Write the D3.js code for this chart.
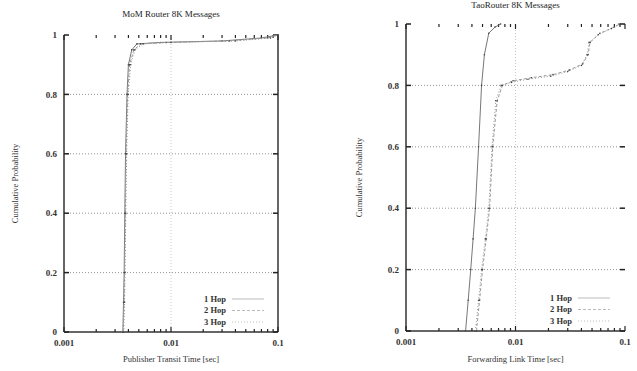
<!DOCTYPE html>
<html>
<head>
<meta charset="utf-8">
<script src="https://cdn.jsdelivr.net/npm/d3@7"></script>
<style>
  body { margin: 0; background: #fff; }
  svg { display: block; font-family: "Liberation Serif", "DejaVu Serif", serif; }
</style>
</head>
<body>
<svg id="chart" width="637" height="371"></svg>
<script>
// Shared axis settings
const xDomain = [0.001, 0.1];
const xTickLabels = ['0.001', '0.01', '0.1'];
const yTicks = [0, 0.2, 0.4, 0.6, 0.8, 1];
const seriesNames = ['1 Hop', '2 Hop', '3 Hop'];

// Left panel: [time sec, cumulative probability]
const momHop1 = [[0.00355, 0], [0.0036, 0.1], [0.00365, 0.2], [0.0037, 0.4], [0.00376, 0.6], [0.00388, 0.8], [0.0040, 0.9], [0.0043, 0.95], [0.0048, 0.97], [0.008, 0.975], [0.03, 0.98], [0.07, 0.99], [0.1, 1]];
const momHop2 = [[0.00358, 0], [0.00364, 0.1], [0.00368, 0.2], [0.00374, 0.4], [0.0038, 0.6], [0.00393, 0.8], [0.0041, 0.9], [0.0045, 0.95], [0.0052, 0.97], [0.009, 0.975], [0.035, 0.98], [0.08, 0.99], [0.1, 1]];
const momHop3 = [[0.00362, 0], [0.00368, 0.1], [0.00372, 0.2], [0.00378, 0.4], [0.00385, 0.6], [0.00398, 0.8], [0.0042, 0.9], [0.0046, 0.95], [0.0055, 0.97], [0.01, 0.975], [0.04, 0.98], [0.085, 0.99], [0.1, 1]];

// Right panel
const taoHop1 = [[0.0035, 0], [0.0037, 0.1], [0.0039, 0.2], [0.0041, 0.3], [0.0043, 0.4], [0.0046, 0.6], [0.0049, 0.8], [0.0052, 0.9], [0.0057, 0.97], [0.0065, 0.99], [0.0073, 1]];
const taoHop2 = [[0.0044, 0], [0.0047, 0.1], [0.0050, 0.2], [0.0054, 0.3], [0.0058, 0.4], [0.0062, 0.6], [0.0068, 0.75], [0.0076, 0.8], [0.0095, 0.815], [0.014, 0.825], [0.022, 0.835], [0.031, 0.85], [0.041, 0.87], [0.046, 0.9], [0.048, 0.94], [0.059, 0.97], [0.08, 0.99], [0.09, 1]];
const taoHop3 = [[0.0043, 0], [0.0046, 0.1], [0.0049, 0.2], [0.0053, 0.3], [0.0057, 0.4], [0.0061, 0.6], [0.0066, 0.75], [0.0074, 0.8], [0.0092, 0.81], [0.013, 0.82], [0.021, 0.83], [0.03, 0.845], [0.04, 0.865], [0.045, 0.9], [0.047, 0.94], [0.057, 0.965], [0.075, 0.985], [0.088, 1]];

const svg = d3.select('#chart');
const dashes = [null, '3,2', '1,2'];

function drawPanel(cfg) {
    const x = d3.scaleLog().domain(xDomain).range([cfg.left, cfg.right]);
    const y = d3.scaleLinear().domain([0, 1]).range([cfg.bottom, cfg.top]);
    const g = svg.append('g');

    // Grid (dotted)
    g.selectAll('.hgrid').data(yTicks.slice(1, -1)).enter().append('line')
        .attr('x1', cfg.left).attr('x2', cfg.right)
        .attr('y1', d => y(d)).attr('y2', d => y(d))
        .attr('stroke', '#888').attr('stroke-width', 0.9).attr('stroke-dasharray', '1,2');
    g.append('line')
        .attr('x1', x(0.01)).attr('x2', x(0.01))
        .attr('y1', cfg.top).attr('y2', cfg.bottom)
        .attr('stroke', '#bbb').attr('stroke-width', 0.8).attr('stroke-dasharray', '1,2');

    // Borders
    g.append('line').attr('x1', cfg.left).attr('x2', cfg.left).attr('y1', cfg.top).attr('y2', cfg.bottom)
        .attr('stroke', '#333').attr('stroke-width', 1.5);
    g.append('line').attr('x1', cfg.left).attr('x2', cfg.right).attr('y1', cfg.bottom).attr('y2', cfg.bottom)
        .attr('stroke', '#333').attr('stroke-width', 1.5);
    if (cfg.rightBorder) {
        g.append('line').attr('x1', cfg.right).attr('x2', cfg.right).attr('y1', cfg.top).attr('y2', cfg.bottom)
            .attr('stroke', '#333').attr('stroke-width', 1.5);
    }

    // Log ticks on bottom and top (mirror)
    const xt = x.ticks();
    [cfg.bottom, cfg.top].forEach((yy, i) => {
        g.selectAll(null).data(xt).enter().append('line')
            .attr('x1', d => x(d)).attr('x2', d => x(d))
            .attr('y1', yy).attr('y2', d => {
                const major = Math.abs(Math.log10(d) - Math.round(Math.log10(d))) < 1e-6;
                const len = major ? 5 : 3;
                return i === 0 ? yy - len : yy + len;
            })
            .attr('stroke', '#222').attr('stroke-width', 1.2);
    });
    // Y ticks left and right
    [cfg.left, cfg.right].forEach((xx, i) => {
        g.selectAll(null).data(yTicks).enter().append('line')
            .attr('x1', xx).attr('x2', i === 0 ? xx + 5 : xx - 5)
            .attr('y1', d => y(d)).attr('y2', d => y(d))
            .attr('stroke', '#222').attr('stroke-width', 1.5);
    });

    // Tick labels
    g.selectAll(null).data(yTicks).enter().append('text')
        .attr('x', cfg.left - 7).attr('y', d => y(d)).attr('dy', '0.35em')
        .attr('text-anchor', 'end').attr('font-size', 9).attr('font-weight', 'bold').attr('fill', '#333')
        .text(d => d3.format('~g')(d));
    g.selectAll(null).data([0.001, 0.01, 0.1]).enter().append('text')
        .attr('x', d => x(d)).attr('y', cfg.bottom + 14)
        .attr('text-anchor', 'middle').attr('font-size', 9).attr('font-weight', 'bold').attr('fill', '#333')
        .text((d, i) => xTickLabels[i]);

    // Title and axis titles
    g.append('text').attr('x', (cfg.left + cfg.right) / 2).attr('y', cfg.titleY)
        .attr('text-anchor', 'middle').attr('font-size', 9).attr('fill', '#222').text(cfg.title);
    g.append('text').attr('x', (cfg.left + cfg.right) / 2).attr('y', 362)
        .attr('text-anchor', 'middle').attr('font-size', 8.5).attr('fill', '#333').text(cfg.xLabel);
    g.append('text')
        .attr('transform', `translate(${cfg.yLabelX},${(cfg.top + cfg.bottom) / 2}) rotate(-90)`)
        .attr('text-anchor', 'middle').attr('font-size', 8.5).attr('fill', '#333').text('Cumulative Probability');

    // Curves
    const line = d3.line().x(d => x(d[0])).y(d => y(d[1]));
    cfg.series.forEach((s, i) => {
        g.append('path').datum(s).attr('d', line)
            .attr('fill', 'none').attr('stroke', i === 0 ? '#777' : '#999')
            .attr('stroke-width', 1).attr('stroke-dasharray', dashes[i]);
        g.selectAll(null).data(s).enter().append('circle')
            .attr('cx', d => x(d[0])).attr('cy', d => y(d[1])).attr('r', 0.8)
            .attr('fill', '#444');
    });

    // Legend
    seriesNames.forEach((name, i) => {
        const ly = cfg.legendY + i * 11.5;
        g.append('text').attr('x', cfg.legendX).attr('y', ly).attr('dy', '0.35em')
            .attr('text-anchor', 'end').attr('font-size', 8.5).attr('font-weight', 'bold').attr('fill', '#333').text(name);
        g.append('line').attr('x1', cfg.legendX + 6).attr('x2', cfg.legendX + 38)
            .attr('y1', ly).attr('y2', ly)
            .attr('stroke', '#bbb').attr('stroke-width', 1).attr('stroke-dasharray', dashes[i]);
    });
}

drawPanel({
    left: 64, right: 278, top: 35, bottom: 332,
    title: 'MoM Router 8K Messages', titleY: 17,
    xLabel: 'Publisher Transit Time [sec]', yLabelX: 18,
    rightBorder: true,
    series: [momHop1, momHop2, momHop3],
    legendX: 226, legendY: 299
});

drawPanel({
    left: 406, right: 625, top: 24, bottom: 331,
    title: 'TaoRouter 8K Messages', titleY: 8,
    xLabel: 'Forwarding Link Time [sec]', yLabelX: 362,
    rightBorder: false,
    series: [taoHop1, taoHop2, taoHop3],
    legendX: 572, legendY: 298
});
</script>
</body>
</html>
